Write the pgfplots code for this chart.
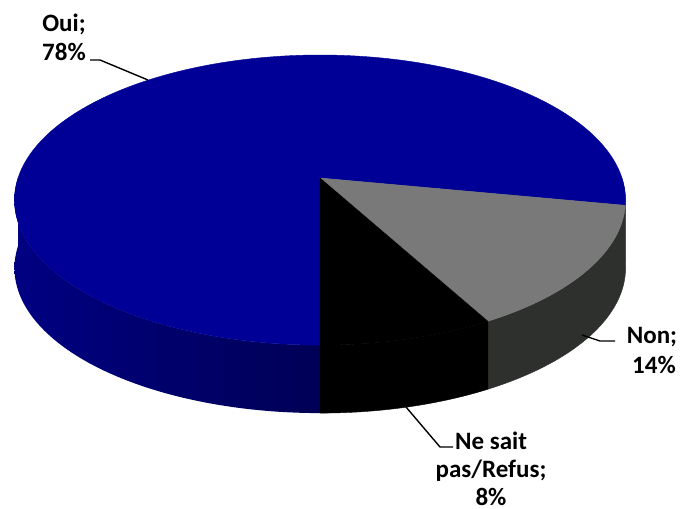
\documentclass[border=0pt]{standalone}
\usepackage{fontspec}
\setmainfont{Carlito}
\usepackage{pgfplots}
\pgfplotsset{compat=1.18}
\definecolor{ouitop}{RGB}{0,0,150}
\definecolor{ouisideL}{RGB}{0,0,130}
\definecolor{ouisideR}{RGB}{0,0,86}
\definecolor{nontop}{RGB}{121,121,121}
\definecolor{nonside}{RGB}{46,48,45}
\definecolor{nsptop}{RGB}{0,0,0}
\definecolor{nspside}{RGB}{0,0,0}
% data (percent)
\def\vOui{78}
\def\vNon{14}
\def\vNsp{8}
\pgfmathsetmacro\tA{90}
\pgfmathsetmacro\tB{\tA+3.6*\vOui}
\pgfmathsetmacro\tC{\tB+3.6*\vNon}
\pgfmathsetmacro\tD{\tC+3.6*\vNsp}
\begin{document}
\begin{tikzpicture}
\begin{axis}[
  width=340.5pt, height=254.5pt, scale only axis,
  xmin=0, xmax=681, ymin=0, ymax=509, y dir=reverse,
  axis lines=none, clip=false,
  declare function={
    px(\t)=320+302*cos(\t)/(1-0.152*sin(\t));
    py(\t)=178+141.7*sin(\t)/(1-0.152*sin(\t));
    sT(\s,\a,\b)=(\s<=1)*(\a+(\b-\a)*min(\s/0.95,1))+(\s>1)*(\b-(\b-\a)*max(\s-1.05,0)/0.95);
    sO(\s)=(\s>1)*68;
  },
]
% side walls
\addplot[draw=none, left color=ouisideL, right color=ouisideR, domain=0:2, samples=161]
  ({px(sT(x,\tA,180))},{py(sT(x,\tA,180))+sO(x)}) -- cycle;
\addplot[fill=ouisideR, draw=none, domain=0:2, samples=41]
  ({px(sT(x,360,\tB))},{py(sT(x,360,\tB))+sO(x)}) -- cycle;
\addplot[fill=nonside, draw=nonside, line width=0.2pt, domain=0:2, samples=161]
  ({px(sT(x,\tB,\tC))},{py(sT(x,\tB,\tC))+sO(x)}) -- cycle;
\addplot[fill=nspside, draw=nspside, line width=0.2pt, domain=0:2, samples=161]
  ({px(sT(x,\tC,\tD))},{py(sT(x,\tC,\tD))+sO(x)}) -- cycle;
% top faces
\addplot[fill=ouitop, draw=ouitop, line width=0.2pt, domain=\tA:\tB, samples=200]
  ({px(x)},{py(x)}) -- (axis cs:320,178) -- cycle;
\addplot[fill=nontop, draw=nontop, line width=0.2pt, domain=\tB:\tC, samples=60]
  ({px(x)},{py(x)}) -- (axis cs:320,178) -- cycle;
\addplot[fill=nsptop, draw=nsptop, line width=0.2pt, domain=\tC:\tD, samples=40]
  ({px(x)},{py(x)}) -- (axis cs:320,178) -- cycle;
% leader lines
\draw[black, line width=0.7pt] (axis cs:90,60) -- (axis cs:100,60) -- (axis cs:148,80);
\draw[black, line width=0.7pt] (axis cs:582,335) -- (axis cs:600,341) -- (axis cs:615,341);
\draw[black, line width=0.7pt] (axis cs:406,407) -- (axis cs:440,447) -- (axis cs:453,447);
% labels
\tikzset{lab/.style={anchor=base, inner sep=0pt, font=\bfseries\fontsize{12.5}{15}\selectfont}}
\node[lab] at (axis cs:64,31) {Oui;};
\node[lab] at (axis cs:64,60) {78\%};
\node[lab] at (axis cs:652,343) {Non;};
\node[lab] at (axis cs:654,373) {14\%};
\node[lab] at (axis cs:491,449) {Ne sait};
\node[lab] at (axis cs:491,477) {pas/Refus;};
\node[lab] at (axis cs:491,505) {8\%};
\end{axis}
\pgfresetboundingbox
\useasboundingbox (0,0) rectangle (340.5pt,254.5pt);
\end{tikzpicture}
\end{document}
